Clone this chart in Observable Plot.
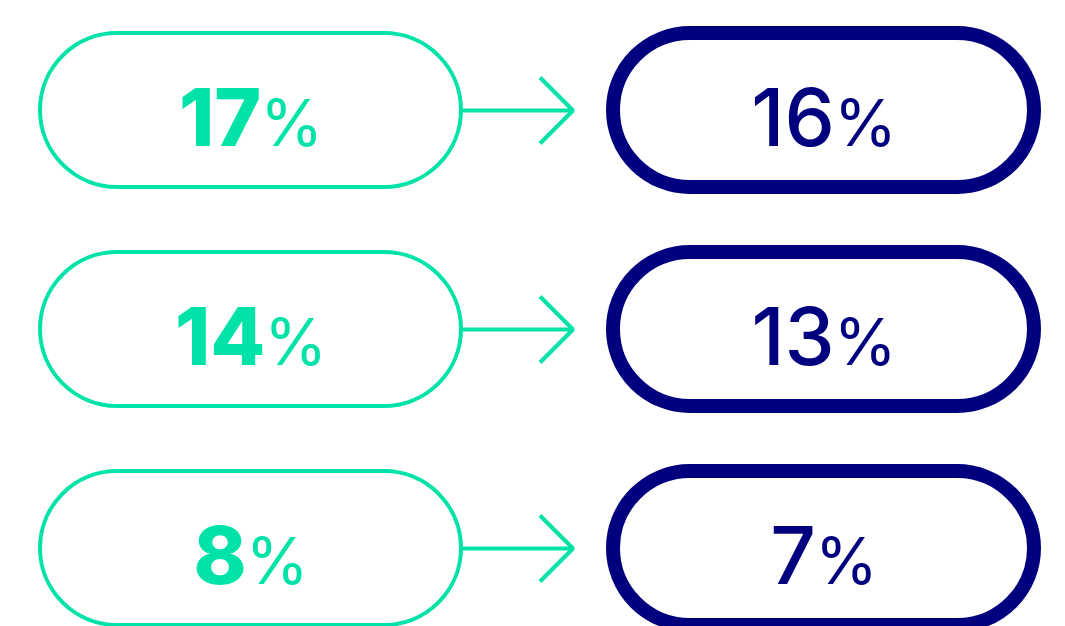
<!DOCTYPE html>
<html><head><meta charset="utf-8">
<script src="https://cdn.jsdelivr.net/npm/d3@7"></script>
<script src="https://cdn.jsdelivr.net/npm/@observablehq/plot@0.6"></script>
<style>body{margin:0;background:#fff;overflow:hidden}</style>
</head><body><div id="chart"></div>
<script>
const rows = ["row1", "row2", "row3"];
const beforeValues = [17, 14, 8];
const afterValues = [16, 13, 7];
const stages = ["before", "after"];
const stageColors = ["#00e3a8", "#00007f"];

const pills = rows.flatMap((r, i) => [
  {row: r, stage: stages[0], value: beforeValues[i]},
  {row: r, stage: stages[1], value: afterValues[i]}
]);
const arrows = rows.map(r => ({row: r, from: stages[0], to: stages[1]}));
const before = pills.filter(d => d.stage === stages[0]);
const after = pills.filter(d => d.stage === stages[1]);

const chart = Plot.plot({
  width: 1065, height: 626,
  marginLeft: 40, marginRight: 30.5, marginTop: 33, marginBottom: 1,
  x: {type: "band", domain: stages, paddingInner: 0.266, paddingOuter: 0, axis: null},
  y: {type: "band", domain: rows, paddingInner: 0.297, paddingOuter: 0, axis: null},
  marks: [
    Plot.arrow(arrows, {x1: "from", x2: "to", y1: "row", y2: "row", stroke: stageColors[0], strokeWidth: 4,
      headAngle: 90, headLength: 17.5, insetEnd: 251, strokeLinecap: "butt", strokeLinejoin: "miter"}),
    Plot.cell(before, {x: "stage", y: "row", fill: "white", stroke: stageColors[0], strokeWidth: 4, rx: 77, inset: 0}),
    Plot.cell(after, {x: "stage", y: "row", fill: "white", stroke: stageColors[1], strokeWidth: 14, rx: 77, inset: 0}),
    Plot.text(before, {x: "stage", y: "row", text: d => d.value + "%", fill: stageColors[0], fontSize: 80,
      fontFamily: "Inter", fontWeight: 800, lineAnchor: "middle", dy: 10, className: "lbl-before"}),
    Plot.text(after, {x: "stage", y: "row", text: d => d.value + "%", fill: stageColors[1], fontSize: 80,
      fontFamily: "Inter", fontWeight: 500, lineAnchor: "middle", dy: 10, className: "lbl-after"})
  ]
});
document.getElementById("chart").appendChild(chart);

// split the percent sign into a smaller, lighter tspan
d3.select(chart).selectAll("text").each(function() {
  const t = d3.select(this);
  const s = t.text();
  if (!s.endsWith("%")) return;
  const num = s.slice(0, -1);
  t.text(null);
  t.append("tspan").text(num);
  t.append("tspan").attr("font-size", 64).attr("font-weight", 400).attr("dx", -1).text("%");
});
</script>
</body></html>
